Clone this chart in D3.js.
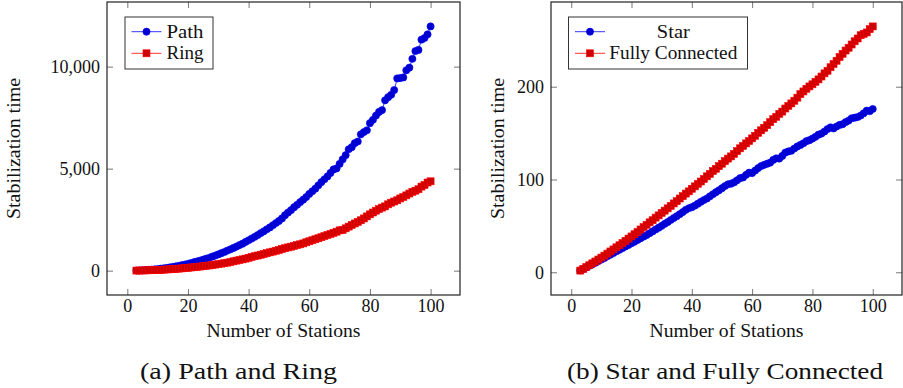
<!DOCTYPE html>
<html>
<head>
<meta charset="utf-8">
<script src="https://cdn.jsdelivr.net/npm/d3@7/dist/d3.min.js"></script>
<style>
  body { margin: 0; background: #fff; }
</style>
</head>
<body>
<div id="chart"></div>
<script>
const stations = [
    3, 4, 5, 6, 7, 8, 9, 10, 11, 12,
    13, 14, 15, 16, 17, 18, 19, 20, 21, 22,
    23, 24, 25, 26, 27, 28, 29, 30, 31, 32,
    33, 34, 35, 36, 37, 38, 39, 40, 41, 42,
    43, 44, 45, 46, 47, 48, 49, 50, 51, 52,
    53, 54, 55, 56, 57, 58, 59, 60, 61, 62,
    63, 64, 65, 66, 67, 68, 69, 70, 71, 72,
    73, 74, 75, 76, 77, 78, 79, 80, 81, 82,
    83, 84, 85, 86, 87, 88, 89, 90, 91, 92,
    93, 94, 95, 96, 97, 98, 99, 100
];

const pathTime = [
    7, 12, 19, 28, 38, 50, 64, 80, 97, 116,
    135, 159, 184, 210, 239, 269, 302, 336, 372, 414,
    452, 494, 539, 586, 630, 687, 741, 797, 855, 915,
    984, 1044, 1112, 1182, 1255, 1322, 1408, 1488, 1571, 1656,
    1745, 1841, 1929, 2025, 2118, 2226, 2330, 2438, 2560, 2720,
    2850, 2970, 3110, 3230, 3360, 3480, 3610, 3760, 3890, 4020,
    4180, 4340, 4480, 4620, 4790, 4960, 5010, 5230, 5450, 5660,
    5950, 6050, 6250, 6330, 6680, 6790, 6880, 7230, 7390, 7600,
    7780, 7870, 8350, 8500, 8620, 8850, 9420, 9440, 9470, 9820,
    9950, 10380, 10760, 10820, 11320, 11400, 11580, 11970
];

const ringTime = [
    4, 6, 9, 13, 18, 23, 29, 35, 42, 50,
    58, 67, 77, 88, 100, 113, 126, 140, 154, 169,
    185, 201, 218, 236, 256, 276, 297, 320, 343, 367,
    393, 420, 458, 492, 522, 555, 590, 630, 670, 708,
    742, 782, 815, 856, 898, 935, 975, 1015, 1058, 1100,
    1140, 1175, 1215, 1255, 1290, 1335, 1390, 1440, 1490, 1540,
    1590, 1640, 1695, 1750, 1800, 1855, 1910, 1975, 1990, 2075,
    2160, 2240, 2315, 2390, 2470, 2560, 2660, 2760, 2850, 2940,
    3020, 3090, 3150, 3250, 3330, 3390, 3450, 3540, 3610, 3690,
    3780, 3860, 3920, 3990, 4120, 4200, 4320, 4380
];

const starTime = [
    2.0, 3.6, 5.2, 6.9, 8.5, 10.2, 12.0, 13.7, 15.4, 17.2,
    19.0, 20.8, 22.6, 24.3, 26.0, 27.8, 29.5, 31.3, 33.0, 34.9,
    36.6, 38.4, 40.1, 42.0, 44.0, 46.1, 48.0, 50.0, 52.2, 54.1,
    56.3, 58.5, 60.4, 62.6, 64.9, 67.3, 69.0, 70.1, 71.8, 73.9,
    76.0, 77.8, 79.5, 81.9, 84.1, 86.3, 88.4, 90.6, 92.9, 94.8,
    95.5, 96.8, 99.1, 101.4, 102.2, 105.0, 107.3, 106.9, 109.6, 112.3,
    114.5, 115.8, 117.0, 118.2, 121.1, 122.8, 122.5, 125.4, 129.0, 130.2,
    131.0, 133.4, 135.6, 137.2, 139.0, 141.3, 142.4, 144.1, 146.0, 148.3,
    149.5, 151.7, 154.4, 156.2, 155.0, 157.1, 158.8, 159.6, 161.8, 163.5,
    166.0, 166.6, 167.3, 168.9, 171.4, 174.2, 173.6, 176.0
];

const fullTime = [
    1.8, 3.7, 5.6, 7.6, 9.6, 11.6, 13.7, 15.8, 17.9, 20.1,
    22.4, 24.6, 26.9, 29.1, 31.5, 33.9, 36.3, 38.6, 41.0, 43.5,
    46.1, 48.7, 51.2, 53.8, 56.1, 58.9, 61.3, 64.0, 66.4, 68.9,
    71.5, 74.2, 76.6, 79.5, 82.0, 84.8, 87.2, 90.0, 92.6, 95.3,
    97.8, 100.5, 103.4, 106.0, 109.1, 111.5, 114.4, 117.0, 119.8, 122.5,
    124.9, 127.6, 130.5, 133.6, 136.2, 138.9, 141.4, 144.3, 147.1, 150.2,
    153.0, 155.7, 158.6, 161.8, 165.0, 167.6, 170.8, 173.2, 176.5, 179.3,
    182.0, 184.9, 188.2, 192.0, 194.9, 197.8, 200.3, 202.6, 205.3, 207.9,
    211.0, 214.4, 217.2, 221.0, 224.5, 228.0, 232.0, 235.5, 239.0, 242.0,
    245.5, 249.0, 252.0, 255.5, 257.0, 258.5, 262.0, 265.0
];

const xTicks = [0, 20, 40, 60, 80, 100];
const pathRingTicks = [0, 5000, 10000];
const starFullTicks = [0, 100, 200];

const width = 903;
const height = 388;
const serif = '"Liberation Serif"';

const svg = d3.select('#chart').append('svg')
    .attr('width', width)
    .attr('height', height);

// pgfplots pads the data range by 10% on every side
function padded(values) {
    const [lo, hi] = d3.extent(values);
    const pad = (hi - lo) * 0.1;
    return [lo - pad, hi + pad];
}

function label(g, size) {
    return g.append('text')
        .style('font-family', serif)
        .style('font-size', size + 'px')
        .attr('fill', '#111');
}

function drawPanel(opts) {
    const { left, right, top, bottom } = opts.box;
    const x = d3.scaleLinear().domain(padded(stations)).range([left, right]);
    const y = d3.scaleLinear()
        .domain(padded(opts.series[0].values.concat(opts.series[1].values)))
        .range([bottom, top]);

    const g = svg.append('g');

    // ticks, all pointing inward
    g.append('g').attr('transform', `translate(0,${bottom})`)
        .call(d3.axisBottom(x).tickValues(xTicks).tickSize(-6).tickSizeOuter(0).tickPadding(4));
    g.append('g').attr('transform', `translate(0,${top})`)
        .call(d3.axisTop(x).tickValues(xTicks).tickSize(-6).tickSizeOuter(0).tickFormat(''));
    const leftAxis = g.append('g').attr('transform', `translate(${left},0)`)
        .call(d3.axisLeft(y).tickValues(opts.yTicks).tickSize(-6).tickSizeOuter(0).tickPadding(7)
            .tickFormat(opts.yFormat));
    g.append('g').attr('transform', `translate(${right},0)`)
        .call(d3.axisRight(y).tickValues(opts.yTicks).tickSize(-6).tickSizeOuter(0).tickFormat(''));

    g.selectAll('.domain').remove();
    g.selectAll('.tick line').attr('stroke', '#555').attr('stroke-width', 0.8);
    g.selectAll('.tick text')
        .style('font-family', serif)
        .style('font-size', '18px')
        .attr('fill', '#111');
    leftAxis.selectAll('.tick text').attr('dy', '0.34em');

    g.append('rect')
        .attr('x', left)
        .attr('y', top)
        .attr('width', right - left)
        .attr('height', bottom - top)
        .attr('fill', 'none')
        .attr('stroke', '#222')
        .attr('stroke-width', 1.2);

    opts.series.forEach(s => {
        const pts = stations.map((n, i) => [x(n), y(s.values[i])]);
        g.append('path')
            .attr('d', d3.line()(pts))
            .attr('fill', 'none')
            .attr('stroke', s.color)
            .attr('stroke-width', 0.8);
        drawMarks(g, pts, s);
    });

    // axis titles
    label(g, 18)
        .attr('x', (left + right) / 2)
        .attr('y', bottom + 42)
        .attr('text-anchor', 'middle')
        .attr('textLength', 154)
        .attr('lengthAdjust', 'spacingAndGlyphs')
        .text('Number of Stations');
    label(g, 18)
        .attr('transform', `translate(${opts.yTitleX},${(top + bottom) / 2}) rotate(-90)`)
        .attr('text-anchor', 'middle')
        .attr('textLength', 141)
        .attr('lengthAdjust', 'spacingAndGlyphs')
        .text('Stabilization time');

    // caption
    label(g, 24)
        .attr('x', opts.captionX)
        .attr('y', 379)
        .attr('text-anchor', 'middle')
        .attr('textLength', opts.captionWidth)
        .attr('lengthAdjust', 'spacingAndGlyphs')
        .text(opts.caption);

    drawLegend(g, opts.legend, opts.series);
}

function drawMarks(g, pts, s) {
    if (s.mark === 'circle') {
        g.append('g').selectAll('circle')
            .data(pts)
            .join('circle')
            .attr('cx', d => d[0])
            .attr('cy', d => d[1])
            .attr('r', 3.6)
            .attr('fill', s.fill)
            .attr('stroke', s.color)
            .attr('stroke-width', 0.6);
    } else {
        g.append('g').selectAll('rect')
            .data(pts)
            .join('rect')
            .attr('x', d => d[0] - 3.5)
            .attr('y', d => d[1] - 3.5)
            .attr('width', 7)
            .attr('height', 7)
            .attr('fill', s.fill)
            .attr('stroke', s.color)
            .attr('stroke-width', 0.6);
    }
}

function drawLegend(g, lg, series) {
    g.append('rect')
        .attr('x', lg.x)
        .attr('y', 17)
        .attr('width', lg.w)
        .attr('height', 52)
        .attr('fill', '#fff')
        .attr('stroke', '#333')
        .attr('stroke-width', 1);

    series.forEach((s, i) => {
        const cy = 31.7 + i * 21.6;
        const x0 = lg.x + 6.5;
        g.append('line')
            .attr('x1', x0)
            .attr('x2', x0 + 30)
            .attr('y1', cy)
            .attr('y2', cy)
            .attr('stroke', s.color)
            .attr('stroke-width', 0.8);
        drawMarks(g, [[x0 + 15, cy]], s);
        label(g, 18)
            .attr('x', lg.textX)
            .attr('y', cy)
            .attr('dy', '0.33em')
            .attr('text-anchor', lg.anchor)
            .attr('textLength', s.labelWidth)
            .attr('lengthAdjust', 'spacingAndGlyphs')
            .text(s.name);
    });
}

drawPanel({
    box: { left: 107, right: 460, top: 2, bottom: 295 },
    yTicks: pathRingTicks,
    yFormat: d3.format(','),
    yTitleX: 20,
    caption: '(a) Path and Ring',
    captionX: 238.5,
    captionWidth: 197,
    legend: { x: 125, w: 88, textX: 166.5, anchor: 'start' },
    series: [
        { name: 'Path', values: pathTime, color: '#0000ff', fill: '#0000cc', mark: 'circle', labelWidth: 37 },
        { name: 'Ring', values: ringTime, color: '#ff0000', fill: '#cc0000', mark: 'square', labelWidth: 37 }
    ]
});

drawPanel({
    box: { left: 551, right: 902, top: 2, bottom: 295 },
    yTicks: starFullTicks,
    yFormat: d3.format('d'),
    yTitleX: 504,
    caption: '(b) Star and Fully Connected',
    captionX: 725,
    captionWidth: 316,
    legend: { x: 568.5, w: 179, textX: 673.3, anchor: 'middle' },
    series: [
        { name: 'Star', values: starTime, color: '#0000ff', fill: '#0000cc', mark: 'circle', labelWidth: 33 },
        { name: 'Fully Connected', values: fullTime, color: '#ff0000', fill: '#cc0000', mark: 'square', labelWidth: 128 }
    ]
});
</script>
</body>
</html>
